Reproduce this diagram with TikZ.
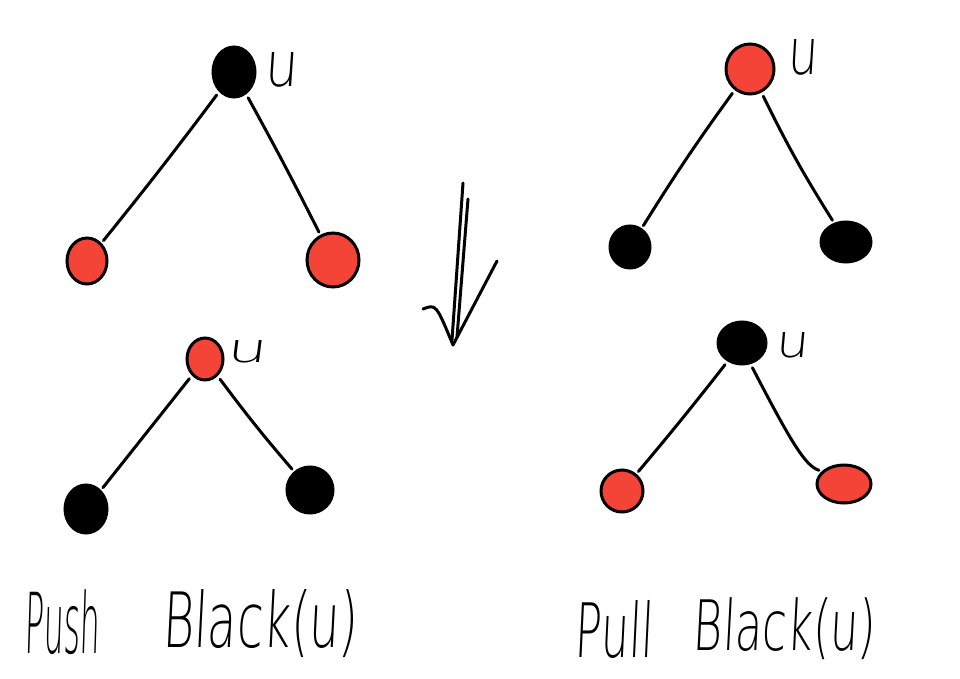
\documentclass[tikz,border=0pt]{standalone}
\usepackage{fontspec}
\newfontfamily\hand[FakeSlant=0.08]{DejaVu Sans ExtraLight}
\usetikzlibrary{shapes.geometric}
\definecolor{nodered}{RGB}{243,68,55}
\tikzset{
  vtx/.style={ellipse, draw=black, line width=3pt, inner sep=0pt},
  rednode/.style={vtx, fill=nodered},
  blacknode/.style={vtx, fill=black},
  treeedge/.style={line width=3pt, line cap=round, shorten <=4pt, shorten >=3pt},
  stroke/.style={line width=3pt, line cap=round, line join=round},
  txt/.style={inner sep=0pt, font=\hand}
}
\begin{document}
\begin{tikzpicture}[x=1pt, y=-1pt]
\useasboundingbox (0,0) rectangle (960,679);
% tree 1 (top-left)
\node[blacknode, minimum width=42pt, minimum height=50pt] (u1) at (234,72) {};
\node[rednode, minimum width=40pt, minimum height=46pt] (l1) at (87,261) {};
\node[rednode, minimum width=52pt, minimum height=54pt] (r1) at (333,260) {};
\node[txt] (lu1) at (281,70) {\resizebox{33pt}{34pt}{u}};
\draw[treeedge] (u1) to[bend left=1] (l1);
\draw[treeedge] (u1) to[bend left=1] (r1);
% tree 2 (bottom-left)
\node[rednode, minimum width=36pt, minimum height=42pt] (u2) at (205,359) {};
\node[blacknode, minimum width=42pt, minimum height=48pt] (l2) at (86,509) {};
\node[blacknode, minimum width=46pt, minimum height=46pt] (r2) at (310,490) {};
\node[txt] (lu2) at (247,352) {\resizebox{40pt}{22pt}{u}};
\draw[treeedge] (u2) -- (l2);
\draw[treeedge] (u2) to[bend right=2] (r2);
% tree 3 (top-right)
\node[rednode, minimum width=48pt, minimum height=50pt] (u3) at (750,69) {};
\node[blacknode, minimum width=40pt, minimum height=42pt] (l3) at (630,247) {};
\node[blacknode, minimum width=50pt, minimum height=40pt] (r3) at (846,242) {};
\node[txt] (lu3) at (802,57) {\resizebox{30pt}{35pt}{u}};
\draw[treeedge] (u3) to[bend right=2] (l3);
\draw[treeedge] (u3) to[bend right=3] (r3);
% tree 4 (bottom-right)
\node[blacknode, minimum width=48pt, minimum height=42pt] (u4) at (742,343) {};
\node[rednode, minimum width=42pt, minimum height=42pt] (l4) at (622,491) {};
\node[rednode, minimum width=54pt, minimum height=38pt] (r4) at (844,484) {};
\node[txt] (lu4) at (792,345) {\resizebox{33pt}{25pt}{u}};
\draw[treeedge] (u4) to[bend left=1] (l4);
\draw[treeedge] (u4.-68) .. controls (790,440) and (805,466) .. (r4.150);
% arrow
\coordinate (a1) at (463,183);
\coordinate (a2) at (468,199);
\coordinate (t1) at (452,340);
\coordinate (t2) at (457,337);
\coordinate (tip) at (453,345);
\coordinate (bl) at (423,309);
\coordinate (br) at (497,261);
\draw[stroke] (a1) -- (t1);
\draw[stroke] (a2) -- (t2);
\draw[stroke] (bl) .. controls (436,304) .. (tip);
\draw[stroke] (br) -- (tip);
% captions
\node[txt] (push) at (62,622) {\resizebox*{75pt}{65pt}{Push}};
\node[txt] (black1) at (260,624) {\resizebox*{195pt}{68pt}{Black(u)}};
\node[txt] (pull) at (614,629) {\resizebox*{78pt}{58pt}{Pull}};
\node[txt] (black2) at (784,629) {\resizebox*{182pt}{62pt}{Black(u)}};
\end{tikzpicture}
\end{document}
